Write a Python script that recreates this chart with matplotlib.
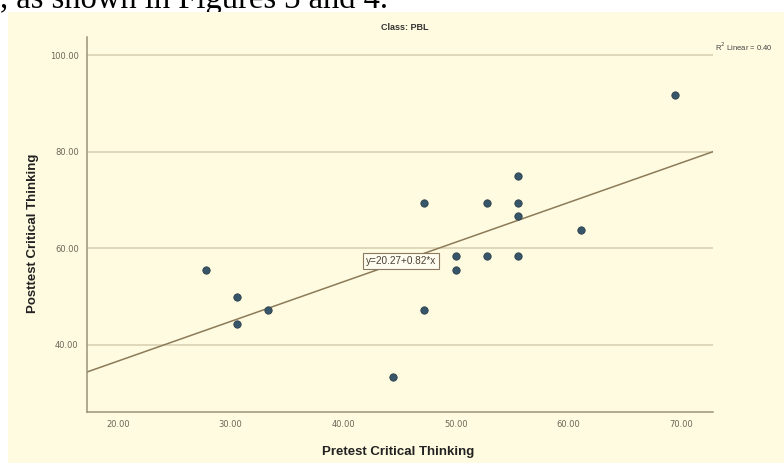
import numpy as np
import matplotlib
matplotlib.use('Agg')
import matplotlib.pyplot as plt
from matplotlib.patches import Rectangle

# pretest / posttest scores
pretest = [27.78, 30.56, 30.56, 33.33, 44.44, 47.22, 47.22, 50.00, 50.00,
           52.78, 52.78, 55.56, 55.56, 55.56, 55.56, 61.11, 69.44]
posttest = [55.56, 50.00, 44.44, 47.22, 33.33, 69.44, 47.22, 58.33, 55.56,
            69.44, 58.33, 75.00, 69.44, 66.67, 58.33, 63.89, 91.67]
intercept = 20.27
slope = 0.82
r2_text = 'R$^2$ Linear = 0.40'
xticks = [20, 30, 40, 50, 60, 70]
yticks = [40, 60, 80, 100]

W, H = 784, 463
cream = '#fffbe0'
grid_c = '#d9d2b4'
spine_c = '#9a937a'
tick_c = '#6b675a'

fig = plt.figure(figsize=(W/100, H/100), dpi=100)
fig.patch.set_facecolor('white')

# cut-off caption line from the document above the chart
fig.text(0/W, 1 - 8/H, ', as shown in Figures 3 and 4.', fontsize=23.5,
         family='Liberation Serif', ha='left', va='baseline', color='black', zorder=-2)
fig.patches.append(Rectangle((8/W, 0), 1 - 8/W, 1 - 12/H, transform=fig.transFigure,
                             facecolor=cream, edgecolor='none', zorder=-1))

ax = fig.add_axes([87/W, 1 - 412/H, (713 - 87)/W, (412 - 37)/H])
ax.set_facecolor(cream)

x0 = 20 - (118 - 87)/11.26
x1 = 20 + (713 - 118)/11.26
y0 = 40 - (412 - 345)/4.833
y1 = 100 + (55 - 37)/4.833
ax.set_xlim(x0, x1)
ax.set_ylim(y0, y1)

for yt in yticks:
    ax.axhline(yt, color=grid_c, lw=1.2, zorder=1)

xs = np.array([x0, x1])
ax.plot(xs, intercept + slope*xs, color='#8c7b58', lw=1.1, zorder=2)

ax.scatter(pretest, posttest, s=28, c='#37566a', edgecolors='#2b3d48',
           linewidths=0.6, zorder=3)

xm = 45.13
ax.text(xm, intercept + slope*xm, 'y=20.27+0.82*x', fontsize=7.2, ha='center', va='center',
        color='#4a4030', family='Liberation Sans', zorder=4,
        bbox=dict(boxstyle='square,pad=0.3', facecolor='#fffdf0', edgecolor='#8a7a60', lw=0.8))

ax.set_xticks(xticks)
ax.set_xticklabels(['%.2f' % v for v in xticks])
ax.set_yticks(yticks)
ax.set_yticklabels(['%.2f' % v for v in yticks])
ax.tick_params(length=0, labelsize=6, labelcolor=tick_c, pad=6)

for s in ['top', 'right']:
    ax.spines[s].set_visible(False)
for s in ['left', 'bottom']:
    ax.spines[s].set_color(spine_c)
    ax.spines[s].set_linewidth(1.1)

fig.text(398/W, 1 - 452/H, 'Pretest Critical Thinking', fontsize=9.5, fontweight='bold',
         family='Liberation Sans', ha='center', va='center', color='#222222')
fig.text(33/W, 1 - 233/H, 'Posttest Critical Thinking', fontsize=9.5, fontweight='bold',
         family='Liberation Sans', ha='center', va='center', rotation=90, color='#222222')
fig.text(405/W, 1 - 27/H, 'Class: PBL', fontsize=6.5, fontweight='bold',
         family='Liberation Sans', ha='center', va='center', color='#333333')
fig.text(715/W, 1 - 47/H, r2_text, fontsize=5.5, family='Liberation Sans',
         ha='left', va='center', color='#444444')

fig.savefig('out.png', dpi=100)
